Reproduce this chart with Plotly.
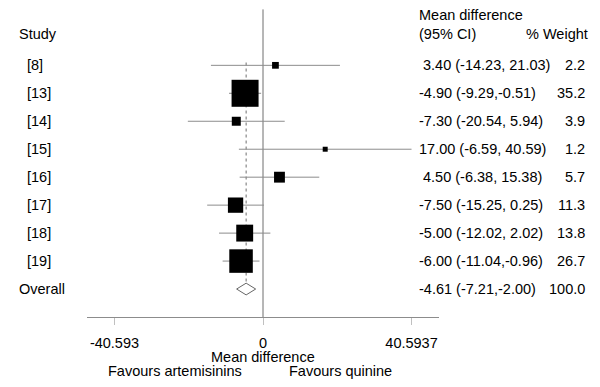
import plotly.graph_objects as go

studies = ["[8]", "[13]", "[14]", "[15]", "[16]", "[17]", "[18]", "[19]"]
est = [3.40, -4.90, -7.30, 17.00, 4.50, -7.50, -5.00, -6.00]
lo = [-14.23, -9.29, -20.54, -6.59, -6.38, -15.25, -12.02, -11.04]
hi = [21.03, -0.51, 5.94, 40.59, 15.38, 0.25, 2.02, -0.96]
weights = [2.2, 35.2, 3.9, 1.2, 5.7, 11.3, 13.8, 26.7]
ci_text = ["\u00a03.40 (-14.23, 21.03)", "-4.90 (-9.29,-0.51)", "-7.30 (-20.54, 5.94)",
           "17.00 (-6.59, 40.59)", "\u00a04.50 (-6.38, 15.38)", "-7.50 (-15.25, 0.25)",
           "-5.00 (-12.02, 2.02)", "-6.00 (-11.04,-0.96)"]
weight_text = ["2.2", "35.2", "3.9", "1.2", "5.7", "11.3", "13.8", "26.7"]

overall_label = "Overall"
overall_est, overall_lo, overall_hi = -4.61, -7.21, -2.00
overall_ci_text = "-4.61 (-7.21,-2.00)"
overall_weight_text = "100.0"

tickvals = [-40.593, 0, 40.5937]
ticktext = ["-40.593", "0", "40.5937"]

FONT = "Liberation Sans, Arial, sans-serif"
FS = 14.5
rows = list(range(1, len(studies) + 1))
orow = len(studies) + 1

fig = go.Figure()

# CI lines (drawn first so squares sit on top)
ci_x, ci_y = [], []
for l, h, r in zip(lo, hi, rows):
    ci_x += [l, h, None]
    ci_y += [r, r, None]
fig.add_trace(go.Scatter(x=ci_x, y=ci_y, mode="lines",
                         line=dict(color="#8c8c8c", width=1),
                         hoverinfo="skip", showlegend=False))

# weighted squares
fig.add_trace(go.Scatter(
    x=est, y=rows, mode="markers",
    marker=dict(symbol="square", color="#000000", opacity=1,
                size=[4.55 * w ** 0.5 for w in weights], line=dict(width=0)),
    hoverinfo="skip", showlegend=False))

# Overall diamond
dh = 0.21
fig.add_trace(go.Scatter(
    x=[overall_lo, overall_est, overall_hi, overall_est, overall_lo],
    y=[orow, orow - dh, orow, orow + dh, orow],
    mode="lines", line=dict(color="#666666", width=1),
    hoverinfo="skip", showlegend=False))

# zero line and overall dashed line
fig.add_shape(type="line", x0=0, x1=0, y0=-1, y1=10.25, xref="x", yref="y",
              line=dict(color="#6e6e6e", width=1), layer="below")
fig.add_shape(type="line", x0=overall_est, x1=overall_est, y0=0.9, y1=orow - dh,
              xref="x", yref="y", line=dict(color="#6e6e6e", width=1, dash="3px,3px"),
              layer="below")

ann = []
def txt(x, y, s, anchor="left"):
    ann.append(dict(x=x, y=y, xref="paper", yref="y", text=s, showarrow=False,
                    xanchor=anchor, yanchor="middle",
                    font=dict(family=FONT, size=FS, color="black")))

txt(-0.198, -0.13, "Study")
txt(0.9366, -0.79, "Mean difference")
txt(0.9366, -0.13, "(95% CI)")
txt(1.428, -0.13, "% Weight", "right")
for r, s, c, w in zip(rows, studies, ci_text, weight_text):
    txt(-0.176, r, s)
    txt(0.9366, r, c)
    txt(1.42, r, w, "right")
txt(-0.198, orow, overall_label)
txt(0.9366, orow, overall_ci_text)
txt(1.42, orow, overall_weight_text, "right")

# axis titles
ann.append(dict(x=0, y=-0.128, xref="x", yref="paper", text="Mean difference",
                showarrow=False, xanchor="center", yanchor="middle",
                font=dict(family=FONT, size=FS, color="black")))
ann.append(dict(x=0.445, y=-0.175, xref="paper", yref="paper", text="Favours artemisinins",
                showarrow=False, xanchor="right", yanchor="middle",
                font=dict(family=FONT, size=FS, color="black")))
ann.append(dict(x=0.569, y=-0.175, xref="paper", yref="paper", text="Favours quinine",
                showarrow=False, xanchor="left", yanchor="middle",
                font=dict(family=FONT, size=FS, color="black")))

# page body has an 8px default margin, so the figure is 8px smaller each way
fig.update_layout(
    width=592, height=379,
    margin=dict(l=79, r=161, t=0, b=70),
    paper_bgcolor="white", plot_bgcolor="white",
    annotations=ann,
    font=dict(family=FONT, size=FS, color="black"),
    xaxis=dict(range=[-48.1, 48.1], showgrid=False, zeroline=False,
               showline=True, linecolor="#8c8c8c", linewidth=1,
               ticks="outside", ticklen=7, tickcolor="#c0c0c0", tickwidth=1,
               tickvals=tickvals, ticktext=ticktext, ticklabelstandoff=6,
               tickfont=dict(family=FONT, size=FS, color="black")),
    yaxis=dict(range=[10, -1.05], visible=False, showgrid=False, zeroline=False),
)

fig.write_html("out.html")
